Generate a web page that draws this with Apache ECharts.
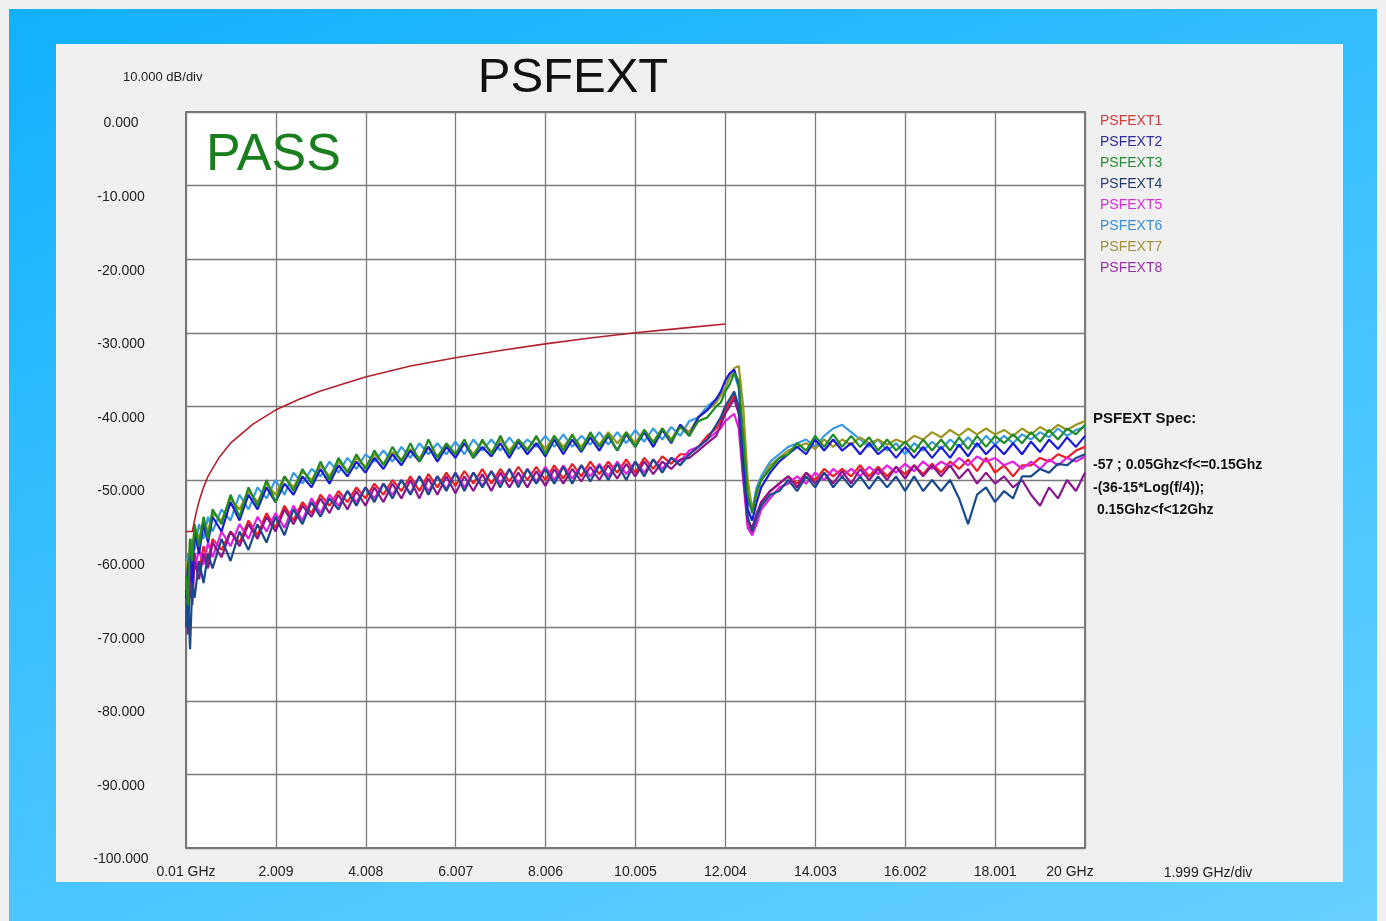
<!DOCTYPE html>
<html><head><meta charset="utf-8">
<script src="https://cdn.jsdelivr.net/npm/echarts@6/dist/echarts.min.js"></script>
<style>
html,body{margin:0;padding:0;background:#f0f0f0;overflow:hidden;}
#frame{position:absolute;left:9px;top:9px;width:1368px;height:912px;background:linear-gradient(160deg,#12b0fc 0%,#3fc2ff 50%,#66cffd 100%);}
#panel{position:absolute;left:56px;top:44px;width:1287px;height:838px;background:#f0f0f0;}
#c{position:absolute;left:0;top:0;width:1386px;height:921px;}
</style>
</head><body>
<div id="frame"></div><div id="panel"></div><div id="c"></div>
<script>
// ---- data ----
const freqGHz = [
 0.01,0.05,0.1,0.15,0.2,0.3,0.4,0.5,0.6,
 0.8,1.0,1.2,1.4,1.6,1.8,2.0,2.2,2.4,2.6,
 2.8,3.0,3.2,3.4,3.6,3.8,4.0,4.2,4.4,4.6,
 4.8,5.0,5.2,5.4,5.6,5.8,6.0,6.2,6.4,6.6,
 6.8,7.0,7.2,7.4,7.6,7.8,8.0,8.2,8.4,8.6,
 8.8,9.0,9.2,9.4,9.6,9.8,10.0,10.2,10.4,10.6,
 10.8,11.0,11.2,11.4,11.6,11.8,
 11.9,12.0,12.1,12.2,12.3,12.4,12.5,12.6,12.7,
 12.8,13.0,13.2,13.4,13.6,13.8,14.0,14.2,14.4,14.6,
 14.8,15.0,15.2,15.4,15.6,15.8,16.0,16.2,16.4,16.6,
 16.8,17.0,17.2,17.4,17.6,17.8,18.0,18.2,18.4,18.6,
 18.8,19.0,19.2,19.4,19.6,19.8,20.0
];
const xTickLabels = ['0.01 GHz','2.009','4.008','6.007','8.006','10.005','12.004','14.003','16.002','18.001','20 GHz'];
const yTickLabels = ['0.000','-10.000','-20.000','-30.000','-40.000','-50.000','-60.000','-70.000','-80.000','-90.000','-100.000'];
const seriesNames = ['PSFEXT1','PSFEXT2','PSFEXT3','PSFEXT4','PSFEXT5','PSFEXT6','PSFEXT7','PSFEXT8'];

const psfext1 = [
 -66,-69,-62,-65,-60,-62.5,-59,-61,-58,
 -59.5,-57,-58.5,-55.5,-57.5,-54.5,-56.5,-53.5,-55.5,-53,
 -54.5,-52,-53.5,-51.5,-53,-51,-52.5,-50.5,-52,-50,
 -51.5,-49.5,-51.5,-49.2,-51,-49,-50.8,-48.8,-50.5,-48.5,
 -50.5,-48.5,-50.2,-48.2,-50,-48.2,-50,-48,-49.8,-47.8,
 -49.5,-47.5,-49.2,-47.5,-49,-47.2,-49,-47,-48.5,-46.8,
 -47.8,-46.5,-46.5,-45.5,-44,-43,
 -42,-40.5,-39.5,-38.5,-40.5,-49,-56,-57.5,-55,
 -53,-51.5,-50.5,-49.5,-50.5,-49,-50,-48.5,-49.5,-48.5,
 -49.5,-48,-49.5,-48.2,-49.5,-48.2,-49.2,-48,-49.2,-47.8,
 -49,-47.5,-48.5,-47.2,-48.8,-47,-49,-48,-49.5,-48,
 -48,-47,-47.5,-46.5,-47,-46,-45.5
];
const psfext2 = [
 -66,-62,-60,-64,-57,-60,-56,-58.5,-55,
 -57,-53,-55.5,-52,-54,-51,-53,-50.5,-52,-49.5,
 -51,-48.5,-50.5,-48,-49.5,-47.5,-49,-47,-48.5,-46.5,
 -48,-46,-47.5,-45.5,-47.5,-45.5,-47,-45,-47,-45.5,
 -46.8,-45,-47,-44.8,-46.5,-45,-46.8,-44.5,-46.5,-44.5,
 -46.2,-44.2,-46,-44,-46,-43.8,-45.5,-43.5,-45.5,-43.2,
 -45,-42.5,-44,-41.5,-40.5,-39,
 -38,-36.5,-35.5,-35,-37,-46,-54,-55.5,-53,
 -51,-49,-47.5,-46.5,-45.5,-46.5,-44.5,-46,-44.5,-46,
 -45,-46.5,-45,-46.5,-45.5,-47,-45.5,-47,-45.5,-47,
 -45.5,-47,-45.2,-46.8,-45,-46.5,-45.2,-46.5,-45,-46.5,
 -44.8,-46.2,-44.5,-45.8,-44.2,-45.5,-44
];
const psfext3 = [
 -63,-67,-58,-61,-56,-59,-55,-58,-54,
 -56,-52,-55,-51,-53.5,-50,-53,-49.5,-51.5,-48.5,
 -50.5,-47.5,-50,-47,-49,-46.5,-48.5,-46,-48,-45.5,
 -47.5,-45,-47.5,-44.5,-47,-45,-46.5,-44.5,-47,-44.5,
 -46.5,-44,-46.5,-44.5,-46,-44,-46.5,-44,-46,-43.8,
 -46,-43.5,-45.5,-43.8,-46,-43.5,-45.5,-43.2,-45,-43,
 -44.8,-42.8,-44,-42,-41.5,-40,
 -39.5,-38,-37,-35.5,-36.5,-44,-52,-54.5,-51.5,
 -50,-48.5,-47,-46.5,-45,-46,-44,-45.5,-43.8,-45.5,
 -44,-45.5,-44.2,-46,-44.5,-46,-44.8,-46.2,-44.5,-46,
 -44.5,-46,-44.2,-45.8,-44,-45.5,-44,-45,-43.8,-45,
 -43.5,-44.8,-43.2,-44.5,-43,-43.8,-42.5
];
const psfext4 = [
 -70,-65,-73,-64,-66,-61,-64,-60,-62,
 -58,-61,-57,-59.5,-56,-58.5,-55,-57.5,-54,-56,
 -53,-55,-52.5,-54,-51.5,-53.5,-51,-53,-50.5,-52.5,
 -50,-52,-49.5,-52,-49.5,-51.5,-49,-51.5,-49,-51,
 -48.8,-51,-48.5,-51,-48.5,-50.5,-48.5,-50.5,-48.2,-50.5,
 -48,-50.2,-48,-50,-47.8,-50,-47.5,-49.5,-47.2,-49,
 -47,-48,-46.5,-45.5,-44.5,-42.5,
 -41.5,-40,-39,-38,-40,-48,-55,-57,-55,
 -53.5,-52,-51.5,-50,-51.5,-49.5,-51,-49,-51,-49.5,
 -51,-49.5,-51.2,-49.5,-51,-49.5,-51.5,-49.5,-51.5,-50,
 -51.5,-50,-52.5,-56,-52,-51,-53,-51.5,-52.5,-49.5,
 -49.5,-48.5,-49,-47.8,-48,-47,-46.5
];
const psfext5 = [
 -68,-64,-66,-61,-62,-59.5,-61.5,-58.5,-60.5,
 -57,-59,-56,-58,-55,-57,-54.5,-56.5,-53.5,-55.5,
 -52.5,-54.5,-52,-53.5,-51.5,-53,-51,-52.5,-50.5,-52,
 -50,-51.8,-49.5,-51.5,-49.5,-51.2,-49,-51,-49,-50.8,
 -48.8,-50.5,-48.5,-50.5,-48.5,-50.2,-48.2,-50,-48,-49.8,
 -48,-49.5,-47.8,-49.5,-47.5,-49.2,-47.5,-49,-47.2,-48.5,
 -47,-47.5,-46,-45.5,-44.5,-43.5,
 -43,-42,-41.5,-41,-43,-50,-56.5,-57.5,-56,
 -54,-52.5,-51,-50.5,-49.5,-50.5,-49,-50,-48.5,-49.5,
 -48.5,-49.5,-48.2,-49.2,-48,-49,-47.8,-48.8,-47.5,-48.5,
 -47.5,-48.2,-47,-48,-46.8,-47.5,-47,-48,-47.5,-48.5,
 -47.5,-48.5,-47.2,-48,-47,-47.5,-46.8
];
const psfext6 = [
 -64,-60,-62,-58,-59.5,-56,-58,-55,-57,
 -54,-55.5,-52,-54,-51,-52.5,-50,-52,-49,-50.5,
 -48.5,-49.5,-47.5,-49,-47,-48.5,-46.5,-47.5,-46,-47.5,
 -45.5,-47,-45,-46.5,-45,-46.5,-44.8,-46.5,-44.5,-46,
 -44.5,-46,-44.2,-45.8,-44.5,-45.5,-44,-45.5,-43.8,-45.5,
 -44,-45.2,-43.5,-45.2,-43.5,-45,-43.2,-44.8,-43,-44.5,
 -42.8,-44,-42,-41.5,-40,-39,
 -38.5,-37.5,-36,-35.5,-37.5,-45,-53,-54,-51,
 -49.5,-47.5,-46.5,-45.5,-45,-44.5,-45.5,-44,-43,-42.5,
 -43.5,-44.5,-45.5,-44.5,-46,-45,-46.5,-45,-46,-44.8,
 -45.8,-44.5,-45.5,-44.2,-45.5,-44,-45.2,-44,-45,-43.8,
 -44.5,-43.5,-44.2,-43,-44,-43.2,-42.8
];
const psfext7 = [
 -61,-64,-58,-60,-56.5,-58,-55.5,-57,-54.5,
 -55.5,-52.5,-54,-51.5,-53,-50.5,-52,-49.5,-51,-48.8,
 -50,-48,-49.5,-47.5,-48.8,-47,-48.2,-46.5,-47.8,-46.2,
 -47.2,-45.8,-47,-45.5,-46.8,-45.2,-46.5,-45,-46.5,-44.8,
 -46.2,-44.5,-46,-44.5,-45.8,-44.2,-45.8,-44,-45.5,-44,
 -45.5,-43.8,-45.2,-43.5,-45,-43.5,-45,-43.2,-44.8,-43,
 -44.5,-42.5,-43.5,-41.5,-40.5,-39.5,
 -38.5,-37.5,-36,-34.8,-34.5,-40,-50,-54,-52,
 -50,-48,-47,-46,-45.5,-45,-45.8,-44.5,-45.5,-44.5,
 -45.2,-44.2,-45,-44.5,-45.2,-44.5,-45,-44,-44.5,-43.5,
 -44.2,-43.2,-44,-43,-43.8,-43,-43.8,-43.2,-44,-43,
 -43.8,-42.8,-43.5,-42.5,-43.2,-42.5,-42
];
const psfext8 = [
 -65,-71,-63,-67,-61,-63.5,-60,-62,-58.5,
 -60.5,-57,-59,-56,-58,-55,-57,-54,-56,-53.5,
 -55,-52.5,-54.5,-52,-54,-51.5,-53.5,-51,-53,-50.5,
 -52.5,-50,-52.5,-49.8,-52,-49.5,-51.8,-49.5,-51.5,-49.2,
 -51.5,-49,-51,-49,-51,-48.8,-50.8,-48.5,-50.5,-48.5,
 -50.2,-48.2,-50,-48,-49.8,-47.8,-49.5,-47.5,-49.2,-47.5,
 -48.5,-47.2,-47,-46,-45,-44,
 -42.5,-41,-40,-39,-41,-49.5,-55.5,-56.5,-54.5,
 -53,-51.5,-50.5,-49.5,-51,-49,-50.5,-49,-50.5,-48.8,
 -50.5,-48.5,-50,-48.5,-50,-48.2,-49.8,-48,-49.5,-48,
 -49.5,-48,-49.8,-48.5,-50.5,-49,-50.5,-49.5,-51,-50,
 -52,-53.5,-51,-52.5,-50,-51.5,-49
];
const specFreq = [0.01,0.15,0.2,0.25,0.3,0.4,0.5,0.75,1,1.5,2,2.5,3,4,5,6,7,8,9,10,11,12];
const specDb   = [-57,-57,-55.5,-54.1,-52.9,-51.0,-49.5,-46.9,-45.0,-42.4,-40.5,-39.1,-37.9,-36.0,-34.5,-33.4,-32.4,-31.5,-30.7,-30.0,-29.4,-28.8];

// ---- styling ----
const seriesValues = [psfext1,psfext2,psfext3,psfext4,psfext5,psfext6,psfext7,psfext8];
const lineColors = ['#ee1c24','#1a1ad6','#1e8c22','#1a4a8c','#e21ee2','#3a9ae0','#9a9622','#8a168c'];
const legendColors = ['#d23a3a','#2a2a9c','#2a8a38','#243c6c','#d232d2','#3c8ed4','#a0923c','#9430a0'];
const zOrder = [3,9,10,6,4,7,8,5];
const X_OFFSET = 0.01; // axis starts at 0.01 GHz
const FONT = '"Liberation Sans", Arial, sans-serif';

const series = seriesNames.map((name,i)=>({
  name, type:'line', showSymbol:false, symbol:'none', z:zOrder[i],
  lineStyle:{color:lineColors[i], width:2.2}, itemStyle:{color:lineColors[i]},
  data: freqGHz.map((f,j)=>[f - X_OFFSET, seriesValues[i][j]]),
  emphasis:{disabled:true}
}));
series.push({
  name:'Spec', type:'line', showSymbol:false, symbol:'none', z:12,
  lineStyle:{color:'#b2202e', width:1.6}, itemStyle:{color:'#b2202e'},
  data: specFreq.map((f,j)=>[f - X_OFFSET, specDb[j]]),
  emphasis:{disabled:true}
});

const chart = echarts.init(document.getElementById('c'), null, {renderer:'canvas'});
chart.setOption({
  animation:false,
  backgroundColor:'transparent',
  textStyle:{fontFamily:FONT},
  grid:{left:186, top:112, width:899, height:736, show:true, backgroundColor:'#ffffff', borderColor:'#4a4a4a', borderWidth:1.5},
  legend:{
    orient:'vertical', left:1090, top:108, icon:'none', itemWidth:0, itemHeight:16, itemGap:5,
    selectedMode:false,
    textStyle:{fontSize:14, fontFamily:FONT, lineHeight:16},
    data: seriesNames.map((n,i)=>({name:n, textStyle:{color:legendColors[i]}}))
  },
  xAxis:{
    type:'value', min:0, max:19.99, interval:1.999,
    axisLine:{show:false}, axisTick:{show:false},
    splitLine:{show:true, lineStyle:{color:'#7a7a7a', width:1.3}},
    axisLabel:{
      margin:17, fontSize:14, color:'#222', fontFamily:FONT, showMinLabel:true, showMaxLabel:true,
      formatter:(v)=>{const k=Math.round(v/1.999); const t=xTickLabels[k]; return k===10?'{l|'+t+'}':t;},
      rich:{l:{fontSize:14, color:'#222', fontFamily:FONT, padding:[0,30,0,0]}}
    }
  },
  yAxis:{
    type:'value', min:-100, max:0, interval:10,
    axisLine:{show:false}, axisTick:{show:false},
    splitLine:{show:true, lineStyle:{color:'#7a7a7a', width:1.3}},
    axisLabel:{
      margin:65, align:'center', verticalAlign:'top', lineHeight:23, fontSize:14, color:'#222', fontFamily:FONT,
      formatter:(v)=>yTickLabels[Math.round(-v/10)]
    }
  },
  series,
  graphic:[
    {type:'text', x:573, y:78, style:{text:'PSFEXT', fontSize:49, fontFamily:FONT, fill:'#111', align:'center', verticalAlign:'middle'}},
    {type:'text', x:123, y:77, style:{text:'10.000 dB/div', fontSize:13, fontFamily:FONT, fill:'#222', verticalAlign:'middle'}},
    {type:'text', x:206, y:156, z:20, style:{text:'PASS', fontSize:52, fontFamily:FONT, fill:'#1a7e1e', verticalAlign:'middle'}},
    {type:'text', x:1208, y:873, style:{text:'1.999 GHz/div', fontSize:14, fontFamily:FONT, fill:'#222', align:'center', verticalAlign:'middle'}},
    {type:'text', x:1093, y:419, style:{text:'PSFEXT Spec:', fontSize:15, fontWeight:'bold', fontFamily:FONT, fill:'#111', verticalAlign:'middle'}},
    {type:'text', x:1093, y:465, style:{text:'-57 ; 0.05Ghz<f<=0.15Ghz', fontSize:14, fontWeight:'bold', fontFamily:FONT, fill:'#111', verticalAlign:'middle'}},
    {type:'text', x:1093, y:488, style:{text:'-(36-15*Log(f/4));', fontSize:14, fontWeight:'bold', fontFamily:FONT, fill:'#111', verticalAlign:'middle'}},
    {type:'text', x:1093, y:510, style:{text:' 0.15Ghz<f<12Ghz', fontSize:14, fontWeight:'bold', fontFamily:FONT, fill:'#111', verticalAlign:'middle'}}
  ]
});
</script>
</body></html>
